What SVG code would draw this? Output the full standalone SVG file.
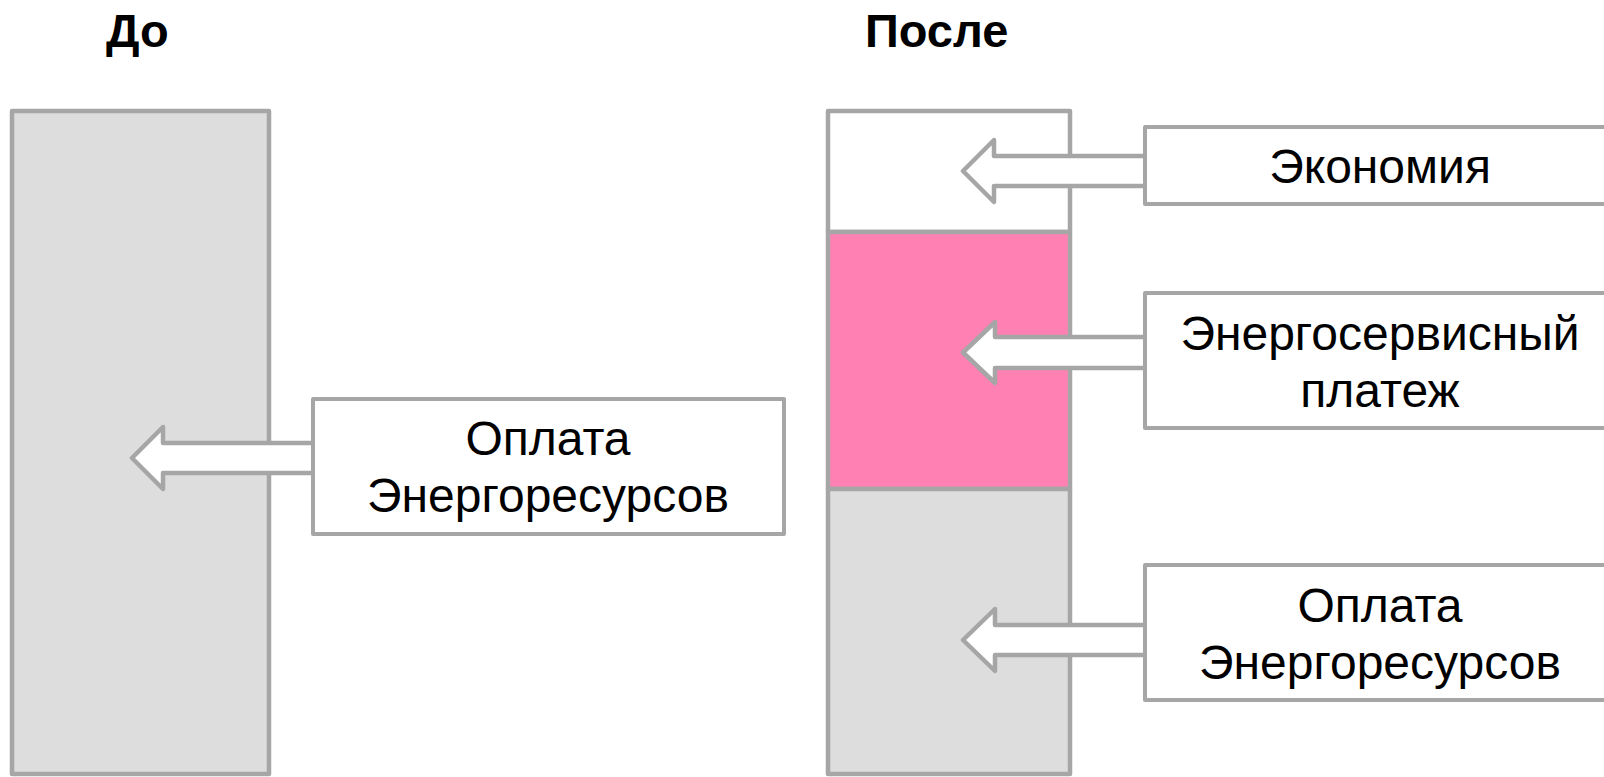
<svg xmlns="http://www.w3.org/2000/svg" width="1604" height="777" viewBox="0 0 1604 777">
<style>
.bar{stroke:#a6a6a6;stroke-width:4.5;stroke-linejoin:round}
.box{fill:#ffffff;stroke:#a6a6a6;stroke-width:4;stroke-linejoin:round}
.arr{fill:#ffffff;stroke:#a6a6a6;stroke-width:4.5;stroke-linejoin:round}
.t{font-family:"Liberation Sans",Arial,sans-serif;font-size:48px;fill:#000000;text-anchor:middle}
.h{font-family:"Liberation Sans",Arial,sans-serif;font-size:47px;font-weight:bold;fill:#000000}
</style>
<rect width="1604" height="777" fill="#ffffff"/>
<g id="title-before"><text class="h" x="106" y="47">До</text></g>
<g id="title-after"><text class="h" x="865" y="47">После</text></g>
<g id="bar-before"><rect class="bar" x="12" y="111" width="257" height="663" fill="#dddddd"/></g>
<g id="bar-after">
<rect class="bar" x="828" y="111" width="242" height="121" fill="#ffffff"/>
<rect class="bar" x="828" y="232" width="242" height="257" fill="#ff80b2"/>
<rect class="bar" x="828" y="489" width="242" height="285" fill="#dddddd"/>
</g>
<g id="connectors">
<path class="arr" d="M318,443 H163 V427 L132,458 L163,489 V473 H318"/>
<path class="arr" d="M1150,156 H994 V140 L963,171 L994,202 V186 H1150"/>
<path class="arr" d="M1150,337 H995 V322 L963,352.5 L995,383 V368 H1150"/>
<path class="arr" d="M1150,625 H995 V609 L963,640 L995,671 V655 H1150"/>
</g>
<g id="box-before-payment">
<rect class="box" x="313" y="399" width="471" height="135"/>
<text class="t" x="548" y="455">Оплата</text>
<text class="t" x="548" y="512">Энергоресурсов</text>
</g>
<g id="box-savings">
<rect class="box" x="1145" y="127" width="471" height="77"/>
<text class="t" x="1380" y="183">Экономия</text>
</g>
<g id="box-service">
<rect class="box" x="1145" y="293" width="471" height="135"/>
<text class="t" x="1380" y="350">Энергосервисный</text>
<text class="t" x="1380" y="407">платеж</text>
</g>
<g id="box-after-payment">
<rect class="box" x="1145" y="565" width="471" height="135"/>
<text class="t" x="1380" y="622">Оплата</text>
<text class="t" x="1380" y="679">Энергоресурсов</text>
</g>
</svg>
